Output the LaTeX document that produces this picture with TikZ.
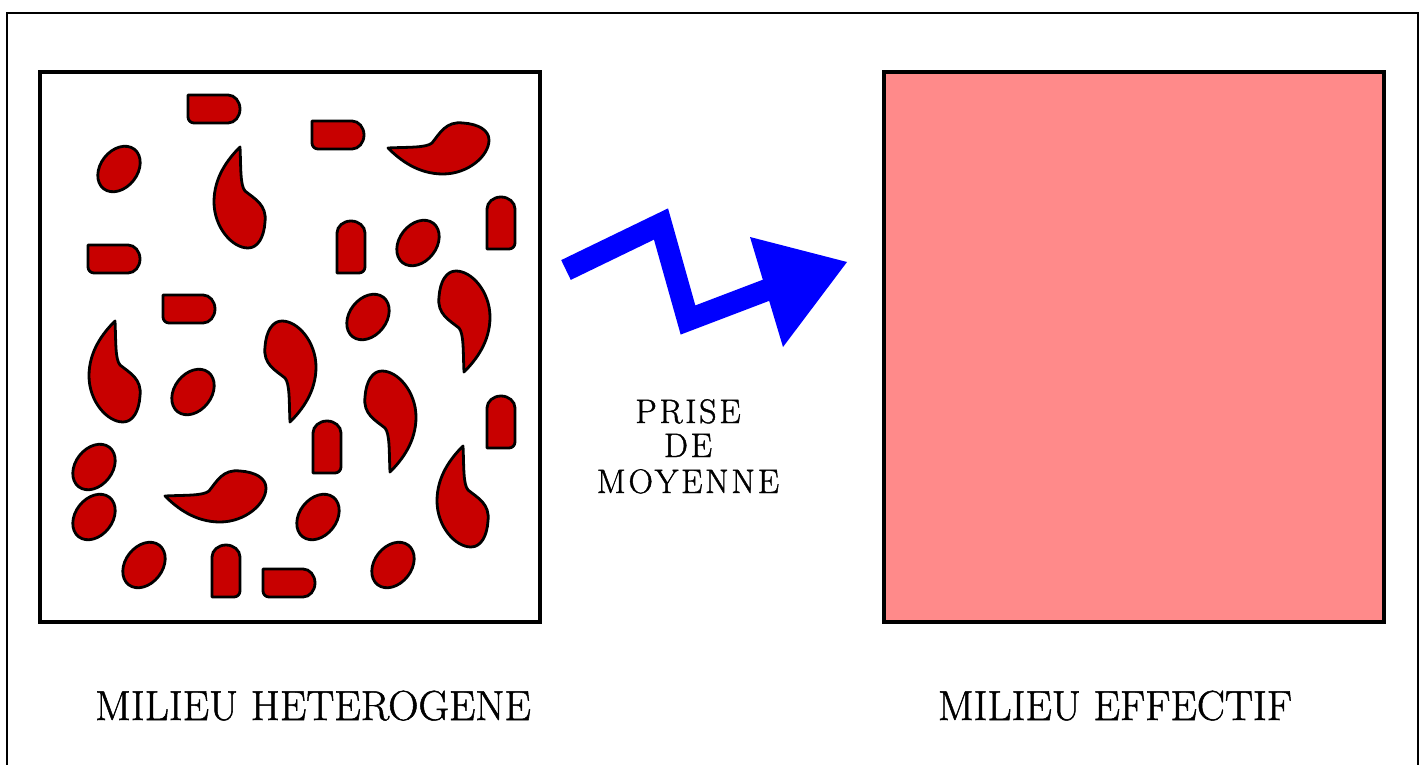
\documentclass[tikz,border=0pt]{standalone}
\usepackage{fontspec}
\newfontfamily\lblfont{Latin Modern Roman}[FakeBold=1.2]
\newfontfamily\midfont{Latin Modern Roman}[FakeBold=1.2, LetterSpace=8]
\definecolor{incred}{RGB}{200,0,0}
\definecolor{effpink}{RGB}{255,138,138}
\definecolor{arrowblue}{RGB}{0,0,255}
\tikzset{
  incl/.style={fill=incred, draw=black, line width=2.8pt, line join=round},
  boxframe/.style={draw=black, line width=4.5pt},
  label/.style={font=\lblfont\fontsize{42}{46}\selectfont, inner sep=0pt, anchor=base},
  midlabel/.style={font=\midfont\fontsize{34}{36}\selectfont, inner sep=0pt, anchor=base,
    text height=24pt, text depth=0pt},
  pics/capsule/.style={code={
    \draw[incl] (-26,-14) -- (14,-14) arc[start angle=-90,end angle=90,x radius=12,y radius=14]
      -- (-20,14) arc[start angle=90,end angle=180,radius=6] -- cycle;}},
  pics/oval/.style={code={
    \draw[incl, rotate=52] (0,0) ellipse [x radius=25, y radius=18.5];}},
  pics/comma/.style={code={
    \draw[incl] (0,-50) .. controls (1,-30) and (0,-12) .. (5,-6)
      .. controls (15,2) and (27,8) .. (25,25)
      .. controls (24,40) and (18,51) .. (8,51)
      .. controls (-8,51) and (-26,30) .. (-26,5)
      .. controls (-26,-20) and (-12,-38) .. (0,-50) -- cycle;}}
}
\begin{document}
\begin{tikzpicture}[x=1pt, y=-1pt]
\useasboundingbox (0,0) rectangle (1426,765);
\fill[white] (0,0) rectangle (1426,765);
% outer frame
\coordinate (f1) at (7,765);
\coordinate (f2) at (7,13);
\coordinate (f3) at (1418,13);
\coordinate (f4) at (1418,765);
\draw[line width=2pt] (f1) -- (f2) -- (f3) -- (f4);
% left box
\node[boxframe, fill=white, minimum width=500pt, minimum height=550pt, inner sep=0pt] (het) at (290,347) {};
% inclusions
\pic at (214,109) {capsule};
\pic at (338,135) {capsule};
\pic[rotate=90] at (438,148) {comma};
\pic at (119,169) {oval};
\pic at (240,197) {comma};
\pic at (114,259) {capsule};
\pic[rotate=90] at (351,247) {capsule};
\pic at (418,243) {oval};
\pic[rotate=90] at (501,223) {capsule};
\pic at (189,309) {capsule};
\pic at (368,317) {oval};
\pic[rotate=180] at (464,322) {comma};
\pic at (115,371) {comma};
\pic at (193,392) {oval};
\pic[rotate=180] at (290,372) {comma};
\pic[rotate=180] at (390,422) {comma};
\pic[rotate=90] at (327,447) {capsule};
\pic[rotate=90] at (501,422) {capsule};
\pic at (463,496) {comma};
\pic at (94,467) {oval};
\pic at (94,517) {oval};
\pic[rotate=90] at (215,496) {comma};
\pic at (318,517) {oval};
\pic at (144,565) {oval};
\pic[rotate=90] at (226,571) {capsule};
\pic at (289,583) {capsule};
\pic at (393,565) {oval};
% right box
\node[boxframe, fill=effpink, minimum width=500pt, minimum height=550pt, inner sep=0pt] (eff) at (1134,347) {};
% zigzag arrow
\coordinate (a0) at (566,270);
\coordinate (a1) at (661,224);
\coordinate (a2) at (688,320);
\coordinate (a3) at (772,288);
\coordinate (t1) at (750,237);
\coordinate (t2) at (847,262);
\coordinate (t3) at (783,347);
\draw[arrowblue, line width=22pt, line join=miter] (a0) -- (a1) -- (a2) -- (a3);
\fill[arrowblue] (t1) -- (t2) -- (t3) -- cycle;
% labels
\node[midlabel] (p1) at (688,423) {PRISE};
\node[midlabel] (p2) at (688,457) {DE};
\node[midlabel] (p3) at (688,493) {MOYENNE};
\node[label] (lh) at (313,720) {MILIEU HETEROGENE};
\node[label] (le) at (1115,720) {MILIEU EFFECTIF};
\end{tikzpicture}
\end{document}
